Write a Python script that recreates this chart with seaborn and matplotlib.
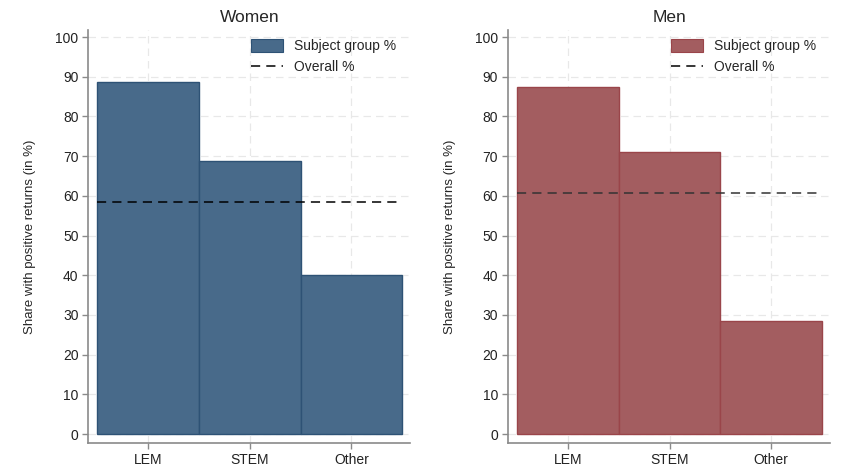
import seaborn as sns
import pandas as pd
import matplotlib.pyplot as plt
from matplotlib.patches import Patch
from matplotlib.lines import Line2D

subjects = ["LEM", "STEM", "Other"]
women_share = [88.7, 68.7, 40.0]
men_share = [87.3, 71.0, 28.5]
women_overall = 58.4
men_overall = 60.8

panels = [
    ("Women", women_share, women_overall, "#486a8a", "#2e5275", "black"),
    ("Men", men_share, men_overall, "#a35d60", "#9a454a", "#333333"),
]

sns.set_style("white")
plt.rcParams["font.family"] = ["Liberation Sans", "DejaVu Sans"]

fig = plt.figure(figsize=(8.48, 4.75), dpi=100)
lefts = [0.104, 0.599]

for (title, vals, overall, col, edge, lcol), left in zip(panels, lefts):
    ax = fig.add_axes([left, 0.067, 0.38, 0.87])
    df = pd.DataFrame({"Subject": subjects, "Share": vals})
    sns.barplot(x="Subject", y="Share", data=df, color=col, width=1.0,
                saturation=1, edgecolor=edge, linewidth=1.0, ax=ax, zorder=2)
    ax.plot([-0.5, 2.5], [overall, overall], color=lcol, lw=1.1,
            dashes=(6, 4), zorder=3)
    ax.set_xlim(-0.59, 2.58)
    ax.set_ylim(-2.3, 101.8)
    ax.set_yticks(range(0, 101, 10))
    ax.set_xticks(range(3))
    ax.set_xticklabels(subjects)
    ax.grid(True, color="#e8e8e8", linestyle=(0, (6, 4)), lw=0.9, zorder=0)
    ax.set_axisbelow(True)
    for s in ["top", "right"]:
        ax.spines[s].set_visible(False)
    for s in ["left", "bottom"]:
        ax.spines[s].set_color("#8a8a8a")
        ax.spines[s].set_linewidth(1.2)
    ax.tick_params(axis="both", direction="out", length=4, width=1,
                   color="#8a8a8a", labelsize=10, labelcolor="#222222",
                   left=True, bottom=True, pad=3)
    ax.set_title(title, fontsize=12.5, pad=6)
    ax.set_xlabel("")
    ax.set_ylabel("Share with positive returns (in %)", fontsize=9.5,
                  labelpad=14)
    handles = [
        Patch(facecolor=col, edgecolor=edge, lw=0.8),
        Line2D([0], [0], color="black", lw=1.1, dashes=(6, 4)),
    ]
    ax.legend(handles, ["Subject group %", "Overall %"], loc="upper right",
              frameon=False, fontsize=10, handlelength=2.3,
              handleheight=1.05, bbox_to_anchor=(0.995, 1.008))

fig.savefig("out.png", dpi=100)
